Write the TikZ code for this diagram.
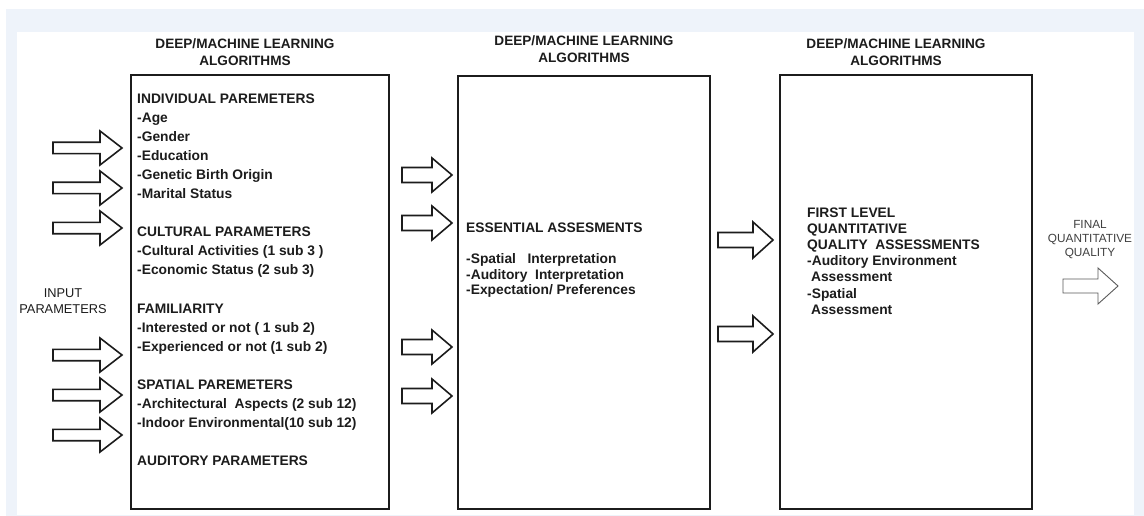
\documentclass[tikz,border=0pt]{standalone}
\usepackage{fontspec}
\setmainfont{Liberation Sans}
\definecolor{bgblue}{RGB}{238,243,250}
\definecolor{ink}{RGB}{28,28,28}
\begin{document}
\begin{tikzpicture}[x=1pt,y=-1pt,
  panel/.style={draw=ink,line width=2pt},
  arrowline/.style={draw=ink,line width=1.6pt,line join=miter,fill=white},
  finalline/.style={draw=black!65,line width=0.9pt,fill=white},
  bodytext/.style={inner sep=0pt,align=left,font=\bfseries\fontsize{13.8}{19.1}\selectfont,text=ink},
  midtext/.style={inner sep=0pt,align=left,font=\bfseries\fontsize{13.8}{15.8}\selectfont,text=ink},
  rtext/.style={inner sep=0pt,align=left,font=\bfseries\fontsize{13.8}{16.2}\selectfont,text=ink},
  headtext/.style={inner sep=0pt,align=center,font=\bfseries\fontsize{13.6}{16.5}\selectfont,text=ink},
  sidetext/.style={inner sep=0pt,align=center,font=\fontsize{12.8}{16}\selectfont,text=ink},
  pics/barrow/.style n args={5}{code={
    \path[#5] (-#1,-#4) -- (-#2,-#4) -- (-#2,-#3) -- (0,0) -- (-#2,#3) -- (-#2,#4) -- (-#1,#4) -- cycle;}}
]
\useasboundingbox (0,0) rectangle (1144,516);
\fill[white] (0,0) rectangle (1144,516);
\fill[bgblue] (6,9) rectangle (1144,516);
\fill[white] (17,32) rectangle (1134,515);

% boxes
\node[panel,minimum width=258,minimum height=434,anchor=north west,inner sep=0pt] (box1) at (130,74) {};
\node[panel,minimum width=252,minimum height=433,anchor=north west,inner sep=0pt] (box2) at (457,75) {};
\node[panel,minimum width=252,minimum height=434,anchor=north west,inner sep=0pt] (box3) at (779,74) {};

% headings (base anchor = baseline of last line)
\node[headtext,anchor=base] (h1) at (245,65.5) {DEEP/MACHINE LEARNING\\ALGORITHMS};
\node[headtext,anchor=base] (h2) at (584,62.5) {DEEP/MACHINE LEARNING\\ALGORITHMS};
\node[headtext,anchor=base] (h3) at (896,65.5) {DEEP/MACHINE LEARNING\\ALGORITHMS};

% box 1 text
\node[bodytext,anchor=base west] (t1) at (137,465.9) {INDIVIDUAL PAREMETERS\\
-Age\\
-Gender\\
-Education\\
-Genetic Birth Origin\\
-Marital Status\\[19.1pt]
CULTURAL PARAMETERS\\
-Cultural Activities (1 sub 3 )\\
-Economic Status (2 sub 3)\\[19.1pt]
FAMILIARITY\\
-Interested or not ( 1 sub 2)\\
-Experienced or not (1 sub 2)\\[19.1pt]
SPATIAL PAREMETERS\\
-Architectural\ \ Aspects (2 sub 12)\\
-Indoor Environmental(10 sub 12)\\[19.1pt]
AUDITORY PARAMETERS};

% box 2 text
\node[midtext,anchor=base west] (t2) at (466,294.9) {ESSENTIAL ASSESMENTS\\[15.5pt]
-Spatial\ \ \ Interpretation\\
-Auditory\ \ Interpretation\\
-Expectation/ Preferences};

% box 3 text
\node[rtext,anchor=base west] (t3) at (807,314.2) {FIRST LEVEL\\
QUANTITATIVE\\
QUALITY\ \ ASSESSMENTS\\
-Auditory Environment\\
\ Assessment\\
-Spatial\\
\ Assessment};

% side labels
\node[sidetext,anchor=base] (inp) at (63,313.5) {INPUT\\PARAMETERS};
\node[sidetext,anchor=base,font=\fontsize{11.8}{14}\selectfont,text=black!75] (fin) at (1090,256) {FINAL\\QUANTITATIVE\\QUALITY};

% left input arrows
\foreach \y [count=\i] in {148,188,228,355,395,435}
  \pic (la\i) at (122,\y) {barrow={69}{22}{17}{5.7}{arrowline}};
% middle arrows
\foreach \y [count=\i] in {175,223,347,396}
  \pic (ma\i) at (452,\y) {barrow={50}{20}{17}{7.5}{arrowline}};
% right arrows
\foreach \y [count=\i] in {240,334}
  \pic (ra\i) at (773,\y) {barrow={55}{20}{18}{7.5}{arrowline}};
% final arrow
\pic (fa) at (1118,286) {barrow={55}{20}{18}{7}{finalline}};
\end{tikzpicture}
\end{document}
